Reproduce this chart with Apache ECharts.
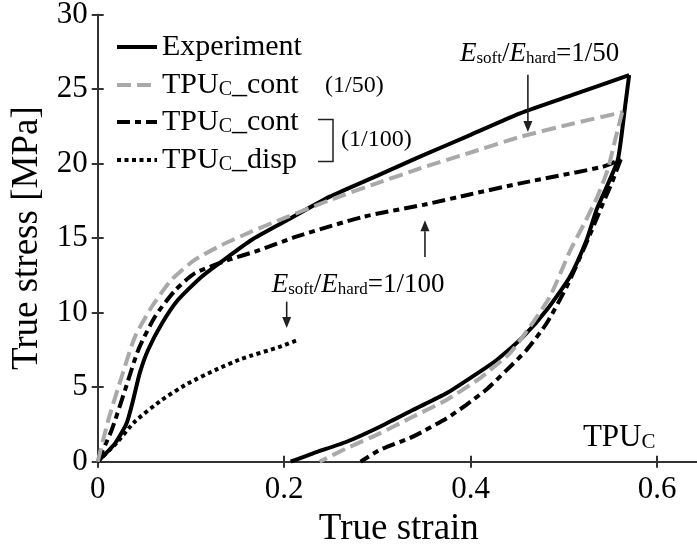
<!DOCTYPE html>
<html><head><meta charset="utf-8">
<script src="https://cdn.jsdelivr.net/npm/echarts@6/dist/echarts.min.js"></script>
<style>html,body{margin:0;padding:0;background:#fff}#c{width:697px;height:554px}</style>
</head><body><div id="c"></div>
<script>
// ---- data (true strain, true stress MPa) ----
const expLoading = [[0,0],[0.0186,1.23],[0.031,2.58],[0.038,4.14],[0.045,5.93],[0.054,7.5],[0.069,9.29],[0.086,10.85],[0.1115,12.42],[0.140,13.76],[0.165,14.88],[0.2,16.1],[0.249,17.79],[0.3,19.2],[0.3456,20.47],[0.4,21.94],[0.453,23.38],[0.51,24.63],[0.570,25.95]];
const expUnloading = [[0.570,25.95],[0.565,23.5],[0.558,20.3],[0.547,18.6],[0.535,16.9],[0.5244,14.88],[0.5065,12.42],[0.4815,10.18],[0.4564,8.39],[0.428,6.83],[0.41,6.05],[0.374,4.59],[0.338,3.47],[0.3027,2.35],[0.267,1.34],[0.231,0.56],[0.207,0]];
const cont50Loading = [[0,0],[0.0114,2.8],[0.0257,5.7],[0.04,8.39],[0.058,10.4],[0.079,12.2],[0.104,13.54],[0.133,14.54],[0.165,15.45],[0.2,16.35],[0.249,17.56],[0.3,18.7],[0.3465,19.7],[0.4,20.75],[0.453,21.8],[0.51,22.7],[0.5625,23.45]];
const cont50Unloading = [[0.5625,23.45],[0.555,21.6],[0.547,19.6],[0.536,17.8],[0.522,16.0],[0.507,14.2],[0.485,11.07],[0.4636,9.06],[0.442,7.27],[0.4207,6.15],[0.41,5.6],[0.374,4.14],[0.338,3.02],[0.3027,1.9],[0.267,0.9],[0.238,0]];
const cont100Loading = [[0,0],[0.015,2.13],[0.0293,4.8],[0.0435,7.5],[0.0614,9.73],[0.083,11.5],[0.104,12.64],[0.140,13.54],[0.1687,14.1],[0.213,15.1],[0.285,16.44],[0.35,17.25],[0.4,17.95],[0.453,18.68],[0.542,19.8],[0.561,20.3]];
const cont100Unloading = [[0.561,20.3],[0.552,18.8],[0.542,17.34],[0.524,14.66],[0.503,11.74],[0.4815,9.29],[0.46,7.5],[0.4386,6.15],[0.417,4.85],[0.395,3.8],[0.374,2.9],[0.338,1.68],[0.3027,0.79],[0.282,0]];
const disp100Loading = [[0,0],[0.02,1.25],[0.04,2.7],[0.0686,4.14],[0.097,5.26],[0.126,6.15],[0.154,6.9],[0.1956,7.72],[0.216,8.2]];
const seriesNames = ['Experiment','TPU_C_cont (1/50)','TPU_C_cont (1/100)','TPU_C_disp (1/100)'];
const legendLabels = ['Experiment','{a|TPU}{s|C}{a|_cont}','{a|TPU}{s|C}{a|_cont}','{a|TPU}{s|C}{a|_disp}'];
const xTickStep = 0.2, xMax = 0.646, yTickStep = 5, yMax = 30;
const annoTexts = ['{e|E}{s|soft}{n|/}{e|E}{s|hard}{n|=1/50}','{e|E}{s|soft}{n|/}{e|E}{s|hard}{n|=1/100}','{a|TPU}{s|C}'];

// ---- chart ----
const F = 'Liberation Serif';
const chart = echarts.init(document.getElementById('c'));
const black = '#000', gray = '#a9a9a9', ink = '#231f20', axisCol = '#333';
const styles = [
  {color: black, width: 4, type: 'solid'},
  {color: gray, width: 4, type: [14, 6]},
  {color: black, width: 4, type: [13, 5, 6, 5]},
  {color: black, width: 4, type: [4, 3.5]}
];
function ser(i, data, z) {
  return {type: 'line', name: seriesNames[i], data: data, symbol: 'none', showSymbol: false,
    smooth: 0.2, lineStyle: Object.assign({cap: 'butt'}, styles[i]), itemStyle: {color: styles[i].color},
    z: z, animation: false, silent: true};
}
const richLegend = {
  a: {fontFamily: F, fontSize: 30, lineHeight: 30, color: black},
  s: {fontFamily: F, fontSize: 20, lineHeight: 16, verticalAlign: 'bottom', color: black}
};
const legendTops = [32, 70, 107, 145];
const legends = seriesNames.map((n, i) => ({
  data: [n], left: 115, top: legendTops[i], orient: 'vertical', padding: 0,
  itemWidth: 40, itemHeight: 14, selectedMode: false,
  lineStyle: {width: 4},
  itemStyle: {opacity: 0, borderWidth: 0},
  formatter: () => legendLabels[i],
  textStyle: {fontFamily: F, fontSize: 30, lineHeight: 30, color: black, rich: richLegend}
}));
const axisLineStyle = {show: true, lineStyle: {color: axisCol, width: 2}};
const tickStyle = {show: true, inside: true, length: 6, lineStyle: {color: axisCol, width: 2}};
chart.setOption({
  animation: false,
  backgroundColor: '#fff',
  grid: {left: 97.7, right: -3, top: 14.7, bottom: 92.3, outerBoundsMode: 'none', containLabel: false},
  legend: legends,
  xAxis: [
    {type: 'value', min: 0, max: xMax, interval: xTickStep, position: 'bottom',
     axisLine: axisLineStyle, axisTick: tickStyle, splitLine: {show: false},
     axisLabel: {fontFamily: F, fontSize: 31, color: black, margin: 13, showMaxLabel: false},
     name: 'True strain', nameLocation: 'middle', nameGap: 43,
     nameTextStyle: {fontFamily: F, fontSize: 37, color: black}},
    {type: 'value', min: 0, max: xMax, interval: xTickStep, position: 'top',
     axisLine: axisLineStyle, axisTick: tickStyle, splitLine: {show: false}, axisLabel: {show: false}}
  ],
  yAxis: [
    {type: 'value', min: 0, max: yMax, interval: yTickStep, position: 'left',
     axisLine: axisLineStyle, axisTick: tickStyle, splitLine: {show: false},
     axisLabel: {fontFamily: F, fontSize: 31, color: black, margin: 10},
     name: 'True stress [MPa]', nameLocation: 'middle', nameGap: 50,
     nameTextStyle: {fontFamily: F, fontSize: 37, color: black}},
    {type: 'value', min: 0, max: yMax, interval: yTickStep, position: 'right',
     axisLine: axisLineStyle, axisTick: tickStyle, splitLine: {show: false}, axisLabel: {show: false}}
  ],
  series: [
    ser(0, expLoading, 5), ser(0, expUnloading, 5),
    ser(2, cont100Loading, 4), ser(2, cont100Unloading, 4),
    ser(1, cont50Loading, 6), ser(1, cont50Unloading, 6),
    ser(3, disp100Loading, 4)
  ]
});

// ---- annotations positioned in data space ----
const P = p => chart.convertToPixel({xAxisIndex: 0, yAxisIndex: 0}, p);
const richAnno = {
  e: {fontFamily: F, fontSize: 27, lineHeight: 27, fontStyle: 'italic', color: black},
  n: {fontFamily: F, fontSize: 27, lineHeight: 27, color: black},
  s: {fontFamily: F, fontSize: 17, lineHeight: 8, verticalAlign: 'bottom', color: black}
};
const richTPU = {
  a: {fontFamily: F, fontSize: 31, lineHeight: 31, color: black},
  s: {fontFamily: F, fontSize: 21, lineHeight: 14, verticalAlign: 'bottom', color: black}
};
const annoAnchors = [[0.3885, 27.4], [0.1866, 11.88], [0.5204, 1.62]];
const arrows = [
  {from: [0.4614, 25.97], to: [0.4614, 22.13]},
  {from: [0.2027, 10.74], to: [0.2027, 8.97]},
  {from: [0.351, 13.74], to: [0.351, 16.2]}
];
const g = [];
annoTexts.forEach((t, i) => {
  const p = P(annoAnchors[i]);
  g.push({type: 'text', x: p[0], y: p[1], style: {text: t, rich: i === 2 ? richTPU : richAnno, verticalAlign: 'middle', align: 'left'}, z: 20});
});
arrows.forEach(a => {
  const p1 = P(a.from), p2 = P(a.to);
  const dir = p2[1] > p1[1] ? 1 : -1;
  const headLen = 11, headW = 4.5;
  g.push({type: 'line', shape: {x1: p1[0], y1: p1[1], x2: p2[0], y2: p2[1] - dir * headLen}, style: {stroke: ink, lineWidth: 1.6}, z: 20});
  g.push({type: 'polygon', shape: {points: [[p2[0] - headW, p2[1] - dir * headLen], [p2[0] + headW, p2[1] - dir * headLen], [p2[0], p2[1]]]}, style: {fill: ink}, z: 20});
});
// legend decorations (legend area is laid out in pixels)
g.push({type: 'polyline', shape: {points: [[318, 119.5], [333, 119.5], [333, 161.5], [318, 161.5]]}, style: {stroke: ink, lineWidth: 1.5, fill: null}, z: 20});
g.push({type: 'text', x: 341, y: 140, style: {text: '(1/100)', fontFamily: F, fontSize: 24, fill: black, verticalAlign: 'middle', align: 'left'}, z: 20});
g.push({type: 'text', x: 325, y: 86, style: {text: '(1/50)', fontFamily: F, fontSize: 24, fill: black, verticalAlign: 'middle', align: 'left'}, z: 20});
chart.setOption({graphic: g});
</script></body></html>
